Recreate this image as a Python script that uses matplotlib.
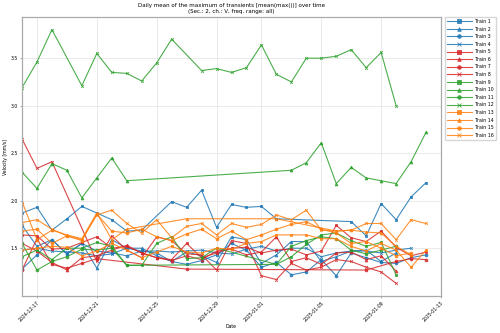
import numpy as np
import pandas as pd
import matplotlib
matplotlib.use("Agg")
import matplotlib.pyplot as plt
import matplotlib.dates as mdates

nan = np.nan
dates = pd.date_range("2024-12-16", periods=28, freq="D")

train_names = [f"Train {i}" for i in range(1, 17)]

# daily mean of max transient velocity [mm/s], one list per train (nan = no data that day)
train_1 = [1.87, 1.93, 1.69, 1.81, 1.94, 1.87, 1.80, 1.68, 1.69, nan, 1.99, 1.93, 2.11, 1.72,
           1.96, 1.93, 1.94, 1.81, nan, nan, nan, nan, 1.78, 1.63, 1.97, 1.80, 2.04, 2.19]
train_2 = [1.74, 1.52, 1.59, 1.44, 1.55, 1.29, 1.59, 1.50, 1.50, 1.42, 1.36, 1.46, 1.42, 1.35,
           1.62, 1.59, 1.34, 1.43, 1.57, 1.57, 1.36, 1.41, 1.47, 1.48, 1.36, 1.45, nan, nan]
train_3 = [1.28, 1.43, 1.59, 1.44, 1.55, 1.47, 1.45, 1.42, 1.47, 1.45, 1.36, 1.33, 1.37, 1.43,
           1.55, 1.48, 1.30, 1.35, 1.22, 1.25, 1.38, 1.21, 1.45, 1.40, 1.35, 1.34, 1.40, 1.43]
train_4 = [1.48, 1.50, 1.47, 1.46, 1.45, 1.42, 1.44, 1.50, 1.47, 1.47, 1.46, 1.47, 1.48, 1.45,
           1.44, 1.49, 1.52, 1.47, 1.50, 1.50, 1.41, 1.45, 1.47, 1.47, 1.45, 1.48, 1.50, nan]
train_5 = [1.64, 1.63, 1.49, 1.50, 1.56, 1.62, 1.50, 1.52, 1.45, 1.40, 1.38, 1.55, 1.40, 1.45,
           1.50, 1.51, 1.45, 1.48, 1.49, 1.43, 1.47, 1.74, 1.61, 1.57, 1.68, 1.51, 1.42, 1.46]
train_6 = [1.55, 1.47, 1.35, 1.27, 1.40, 1.42, 1.48, 1.53, 1.45, 1.40, 1.37, 1.42, 1.38, 1.47,
           1.49, 1.43, 1.46, 1.62, 1.36, 1.40, 1.33, 1.45, 1.46, 1.38, 1.42, 1.26, nan, nan]
train_7 = [1.27, 1.60, 1.33, 1.29, 1.34, 1.39, nan, nan, nan, nan, nan, 1.28, nan, nan,
           nan, nan, nan, nan, nan, nan, nan, nan, nan, 1.27, nan, 1.36, 1.39, 1.38]
train_8 = [2.65, 2.34, 2.41, nan, nan, 1.36, 1.63, 1.48, 1.40, 1.62, 1.58, 1.44, 1.43, 1.27,
           1.58, 1.55, 1.21, 1.17, 1.34, 1.27, 1.30, 1.38, 1.36, 1.30, 1.25, 1.13, nan, nan]
train_9 = [1.41, 1.48, 1.38, 1.50, 1.50, 1.56, 1.52, 1.32, 1.32, 1.55, 1.62, 1.39, 1.40, 1.50,
           nan, nan, nan, 1.33, 1.41, 1.54, 1.64, 1.66, 1.58, 1.52, 1.56, 1.22, nan, nan]
train_10 = [2.30, 2.13, 2.39, 2.32, 2.03, 2.24, 2.45, 2.21, nan, nan, nan, nan, nan, nan,
            nan, nan, nan, nan, 2.32, 2.40, 2.61, 2.18, 2.35, 2.24, 2.21, 2.18, 2.41, 2.72]
train_11 = [1.55, 1.27, 1.36, 1.41, 1.49, 1.48, 1.50, 1.32, nan, nan, nan, nan, nan, nan,
            nan, nan, nan, 1.33, 1.52, 1.58, 1.62, 1.60, 1.48, 1.44, 1.48, 1.52, nan, nan]
train_12 = [3.19, 3.46, 3.80, nan, 3.21, 3.55, 3.35, 3.34, 3.26, 3.45, 3.70, nan, 3.37, 3.39,
            3.35, 3.40, 3.64, 3.33, 3.25, 3.50, 3.50, 3.52, 3.59, 3.40, 3.56, 3.00, nan, nan]
train_13 = [1.48, 1.50, 1.52, 1.51, 1.42, 1.47, 1.55, 1.48, 1.40, 1.46, 1.52, 1.46, 1.45, 1.50,
            1.49, 1.55, 1.57, 1.64, 1.64, 1.64, 1.60, 1.60, 1.52, 1.47, 1.55, 1.48, 1.30, 1.48]
train_14 = [1.99, 1.59, 1.69, 1.64, 1.60, 1.87, 1.59, 1.70, nan, nan, nan, 1.81, nan, nan,
            nan, nan, nan, 1.81, nan, nan, nan, 1.68, 1.69, 1.67, 1.66, 1.52, 1.43, nan]
train_15 = [1.68, 1.70, 1.55, 1.63, 1.58, 1.86, 1.68, 1.66, 1.70, 1.62, 1.58, 1.65, 1.70, 1.60,
            1.68, 1.59, 1.64, 1.70, 1.75, 1.78, 1.70, 1.66, 1.55, 1.57, 1.50, 1.42, 1.45, nan]
train_16 = [1.77, 1.80, 1.70, 1.63, 1.59, 1.85, 1.90, 1.76, 1.66, 1.80, 1.61, 1.73, 1.76, 1.64,
            1.76, 1.72, 1.75, 1.85, 1.80, 1.90, 1.69, 1.68, 1.69, 1.76, 1.76, 1.59, 1.80, 1.76]

all_trains = [train_1, train_2, train_3, train_4, train_5, train_6, train_7, train_8,
              train_9, train_10, train_11, train_12, train_13, train_14, train_15, train_16]

colors = ["tab:blue", "tab:red", "tab:green", "tab:orange"]
markers = ["s", "^", "o", "x"]

fig = plt.figure(figsize=(5, 3.33), dpi=100)
ax = fig.add_axes([0.044, 0.111, 0.838, 0.838])

for i, (name, vals) in enumerate(zip(train_names, all_trains)):
    s = pd.Series(vals, index=dates).dropna()
    ax.plot(s.index, s.values, color=colors[i // 4], marker=markers[i % 4],
            markersize=2.0, linewidth=0.8, markeredgewidth=0.6, alpha=0.85, label=name)

ax.set_xlim(pd.Timestamp("2024-12-16"), pd.Timestamp("2025-01-13"))
ax.xaxis.set_major_locator(mdates.DayLocator(bymonthday=[1, 5, 9, 13, 17, 21, 25, 29]))
ax.xaxis.set_major_formatter(mdates.DateFormatter("%Y-%m-%d"))
ax.set_yticks([1.5, 2.0, 2.5, 3.0, 3.5])

plt.setp(ax.get_xticklabels(), rotation=45, ha="right", rotation_mode="anchor")
ax.tick_params(labelsize=3.3, length=1.5, width=0.5, pad=1.5, color="#888888")

ax.grid(color="#e6e6e6", linewidth=0.6)
ax.set_axisbelow(True)
for sp in ax.spines.values():
    sp.set_color("#aaaaaa")
    sp.set_linewidth(0.9)

ax.set_title("Daily mean of the maximum of transients [mean(max())] over time\n"
             "(Sec.: 2, ch.: V, freq. range: all)", fontsize=4.0, pad=3)
ax.set_xlabel("Date", fontsize=3.3, labelpad=0.5)
ax.set_ylabel("Velocity [mm/s]", fontsize=3.3, labelpad=2)

ax.legend(loc="upper left", bbox_to_anchor=(1.003, 1.01), fontsize=3.4,
          handlelength=5.2, markerscale=1.3, frameon=True, edgecolor="#cccccc",
          fancybox=True, borderpad=0.5, labelspacing=0.55)

fig.savefig("out.png", dpi=100)
